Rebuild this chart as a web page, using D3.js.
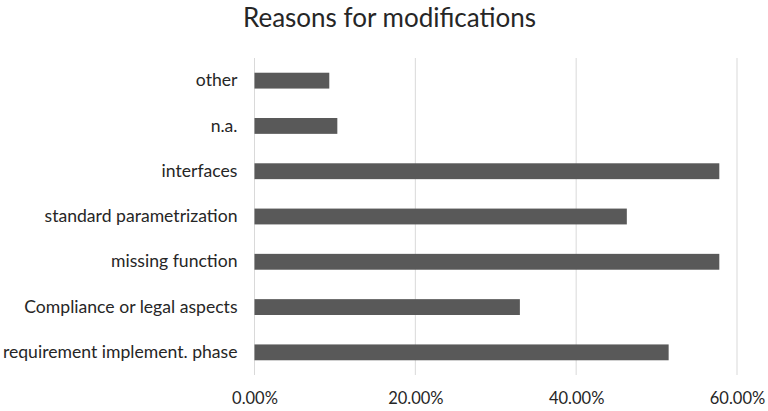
<!DOCTYPE html>
<html>
<head>
<meta charset="utf-8">
<script src="https://cdn.jsdelivr.net/npm/d3@7"></script>
<style>
  html, body { margin: 0; padding: 0; background: #fff; }
  svg { display: block; }
  text { font-family: Lato, "Open Sans", sans-serif; fill: #262626; }
</style>
</head>
<body>
<svg id="chart" width="768" height="411"></svg>
<script>
// Reasons for modifications, share of responses (top to bottom as drawn)
const categories = [
  "other",
  "n.a.",
  "interfaces",
  "standard parametrization",
  "missing function",
  "Compliance or legal aspects",
  "requirement implement. phase"
];
const shares = [0.093, 0.103, 0.578, 0.463, 0.578, 0.330, 0.515];
const tickValues = [0, 0.2, 0.4, 0.6];
const titleText = "Reasons for modifications";

const svg = d3.select("#chart");
const W = 768, H = 411;
const margin = { top: 58, right: 30, bottom: 36, left: 254.5 };

const x = d3.scaleLinear()
  .domain([0, 0.6])
  .range([margin.left, 737]);

const y = d3.scaleBand()
  .domain(categories)
  .range([margin.top, H - margin.bottom])
  .paddingInner(0.65)
  .paddingOuter(0.325);

// vertical gridlines
svg.append("g")
  .selectAll("line")
  .data(tickValues)
  .join("line")
  .attr("x1", d => x(d)).attr("x2", d => x(d))
  .attr("y1", margin.top).attr("y2", H - margin.bottom)
  .attr("stroke", "#d9d9d9")
  .attr("stroke-width", 1);

// bars
svg.append("g")
  .selectAll("rect")
  .data(categories.map((c, i) => ({ c, v: shares[i] })))
  .join("rect")
  .attr("x", x(0))
  .attr("y", d => y(d.c))
  .attr("width", d => x(d.v) - x(0))
  .attr("height", y.bandwidth())
  .attr("fill", "#595959");

// x axis labels
const xAxis = d3.axisBottom(x)
  .tickValues(tickValues)
  .tickFormat(d3.format(".2%"))
  .tickSize(0)
  .tickPadding(17);
const gx = svg.append("g")
  .attr("transform", `translate(0,${H - margin.bottom})`)
  .call(xAxis);
gx.select(".domain").remove();
gx.selectAll("text")
  .attr("font-size", 16.5)
  .style("font-family", "Lato, 'Open Sans', sans-serif")
  .attr("fill", "#262626");

// category labels
const yAxis = d3.axisLeft(y).tickSize(0).tickPadding(17);
const gy = svg.append("g")
  .attr("transform", `translate(${margin.left},0)`)
  .call(yAxis);
gy.select(".domain").remove();
gy.selectAll("text")
  .attr("font-size", 17.6)
  .style("font-family", "Lato, 'Open Sans', sans-serif")
  .attr("fill", "#262626");

// title
svg.append("text")
  .attr("x", 389.5)
  .attr("y", 27)
  .attr("text-anchor", "middle")
  .attr("font-size", 26)
  .text(titleText);
</script>
</body>
</html>
